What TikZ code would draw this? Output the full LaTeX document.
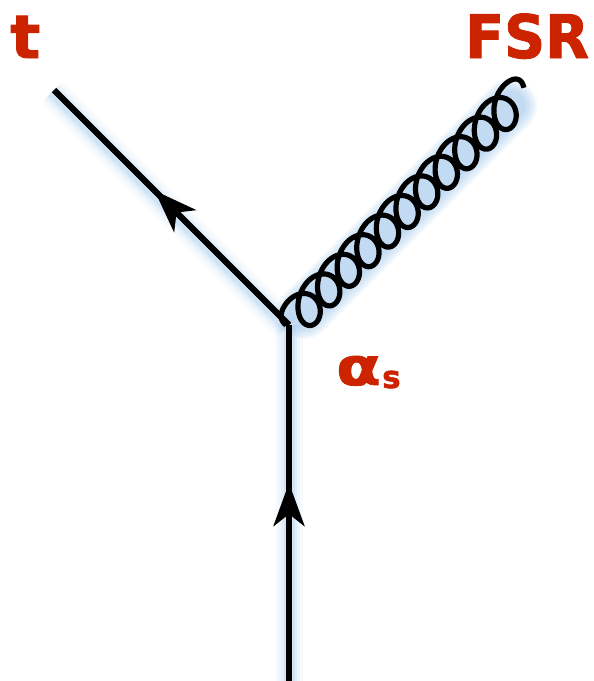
\documentclass[tikz,border=0pt]{standalone}
\usepackage{fontspec}
\setmainfont{DejaVu Sans}
\newfontfamily\heavyfont[UprightFont=* Bold,FakeBold=1.6]{DejaVu Sans}
\usetikzlibrary{arrows.meta,decorations.markings}
\definecolor{labelred}{HTML}{CC2400}
\definecolor{glowblue}{HTML}{8DBBE6}
\tikzset{
  declare function={
    rampa(\t)=max(0,1-abs(\t+1.45)/1.5);
    rampb(\t)=max(0,1-abs(\t-70.6)/1.5);
    coilamp(\t)=18.5-10.2*rampa(\t)*rampa(\t)-8.5*rampb(\t)*rampb(\t);
    coilalong(\t)=4.41*\t+coilamp(\t)*sin(\t r)+12+5.1*cos(\t r);
    coilperp(\t)=-17.5*cos(\t r);
  },
  x=1pt,y=-1pt,
  fermion/.style={line width=6.2pt,black},
  gluon/.style={line width=5.2pt,black,line join=round},
  lab/.style={text=labelred,inner sep=0pt,anchor=base west,font=\heavyfont},
  flowtip/.style={postaction={decorate},decoration={markings,mark=at position #1 with {\arrow{Stealth[length=43pt,width=31pt,inset=12pt]}}}},
  glowA/.style={glowblue,line width=28pt,opacity=.06},
  glowB/.style={glowblue,line width=22pt,opacity=.09},
  glowC/.style={glowblue,line width=16pt,opacity=.13},
  glowD/.style={glowblue,line width=11pt,opacity=.20},
}
\newcommand{\coilpath}{plot[domain=-1.45:70.6,samples=1000] ({0.7071*(coilalong(\x)+coilperp(\x))},{0.7071*(coilperp(\x)-coilalong(\x))})}
\begin{document}
\begin{tikzpicture}
\useasboundingbox (0,0) rectangle (594,681);
\clip (0,0) rectangle (594,681);
\coordinate (v) at (289,325);
\coordinate (top) at (54,90);
\coordinate (bot) at (289,681);
\coordinate (gs) at (304,312);
\coordinate (ge) at (510,106);
% glow
\foreach \s in {glowA,glowB,glowC,glowD}{
  \draw[\s] ([shift={(-2,2)}]top) -- ([shift={(-2,2)}]v);
  \draw[\s] (v) -- (bot);
}
\foreach \w in {54,50,46,42,38,34,30}{
  \draw[glowblue,line width=\w pt,opacity=.10,line cap=round] (gs) -- (ge);
}
% lines
\draw[fermion,flowtip=0.572] (v) -- (top);
\draw[fermion,flowtip=0.556] (bot) -- (v);
\draw[gluon,shift={(v)}] \coilpath;
% labels
\node[lab,font=\heavyfont\fontsize{60}{60}\selectfont,xscale=1.05] (tlab) at (10,58) {t};
\node[lab,font=\heavyfont\fontsize{60}{60}\selectfont,xscale=.95] (fsr) at (465,58) {FSR};
\node[lab,font=\heavyfont\fontsize{52}{52}\selectfont,xscale=1.25] (alpha) at (336,385) {α};
\node[lab,font=\heavyfont\fontsize{31}{31}\selectfont] (sub) at (382,388) {s};
\end{tikzpicture}
\end{document}
